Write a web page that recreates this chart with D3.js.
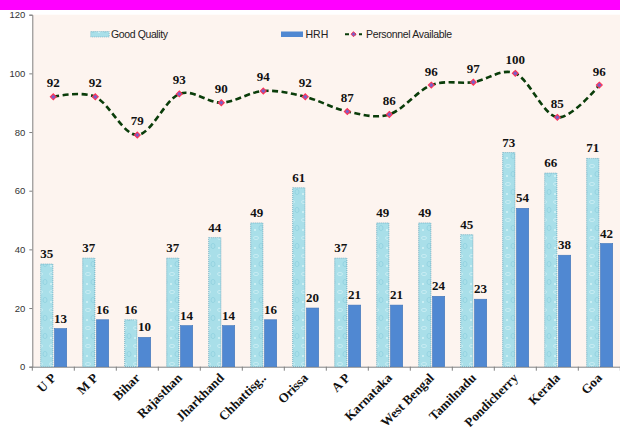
<!DOCTYPE html>
<html><head><meta charset="utf-8">
<script src="https://cdn.jsdelivr.net/npm/d3@7"></script>
<style>html,body{margin:0;padding:0;background:#fff;}svg{display:block;}</style>
</head><body>
<script>
const categories = ["U P","M P","Bihar","Rajasthan","Jharkhand","Chhattisg..","Orissa","A P","Karnataka","West Bengal","Tamilnadu","Pondicherry","Kerala","Goa"];
const goodQuality = [35,37,16,37,44,49,61,37,49,49,45,73,66,71];
const hrh = [13,16,10,14,14,16,20,21,21,24,23,54,38,42];
const personnel = [92,92,79,93,90,94,92,87,86,96,97,100,85,96];
const yTicks = [0,20,40,60,80,100,120];
const seriesNames = ["Good Quality","HRH","Personnel Available"];

(function(){
const W = 620, H = 427;
const svg = d3.select("body").append("svg").attr("width", W).attr("height", H);

// magenta band
svg.append("rect").attr("x",0).attr("y",0).attr("width",W).attr("height",10).attr("fill","#ff00ff");

const pL = 32.3, pR = 620.3, pT = 14.7, pB = 366.7;
const x = d3.scaleBand().domain(categories).range([pL, pR]).padding(0);
const inner = d3.scaleBand().domain(["gq","hrh"]).range([8.4, 34.4]).paddingInner(0.12).paddingOuter(0);
const y = d3.scaleLinear().domain([0,120]).range([pB, pT]);

// pattern for Good Quality
const defs = svg.append("defs");
const pat = defs.append("pattern").attr("id","water").attr("patternUnits","userSpaceOnUse")
  .attr("width",12).attr("height",18);
pat.append("rect").attr("width",12).attr("height",18).attr("fill","#a9dfe9");
pat.append("ellipse").attr("cx",4).attr("cy",4).attr("rx",2.5).attr("ry",1.6).attr("fill","none").attr("stroke","#cdeff4").attr("stroke-width",0.8);
pat.append("ellipse").attr("cx",9).attr("cy",12).attr("rx",2).attr("ry",2.6).attr("fill","none").attr("stroke","#8ccfdc").attr("stroke-width",0.7);
pat.append("circle").attr("cx",3).attr("cy",14).attr("r",1).attr("fill","#d6f3f7");

// plot background
svg.append("rect").attr("x",pL).attr("y",pT).attr("width",pR-pL).attr("height",pB-pT).attr("fill","#fdf4ef");

// axes
const yAxis = d3.axisLeft(y).tickValues(yTicks).tickSize(3).tickPadding(4);
const gy = svg.append("g").attr("transform",`translate(${pL},0)`).call(yAxis);
gy.selectAll("path,line").attr("stroke","#808080");
gy.selectAll("text").attr("font-family","'Liberation Sans',Arial,sans-serif").attr("font-size","9.5px").attr("fill","#333");

const xAxis = d3.axisBottom(x).tickSize(0).tickFormat("");
const gx = svg.append("g").attr("transform",`translate(0,${pB})`).call(xAxis);
gx.select("path").attr("stroke","#808080");
gx.selectAll(".tick").remove();
svg.append("g").selectAll("line").data(categories.concat(["__end"]))
  .join("line")
  .attr("x1",(d,i)=> i<categories.length ? x(d) : pR)
  .attr("x2",(d,i)=> i<categories.length ? x(d) : pR)
  .attr("y1",pB).attr("y2",pB+4).attr("stroke","#808080");

// x labels
svg.append("g").selectAll("text").data(categories).join("text")
  .attr("transform", d => `translate(${x(d)+x.bandwidth()/2+3.5},${pB+12}) rotate(-45)`)
  .attr("text-anchor","end")
  .attr("font-family","'Liberation Serif','Times New Roman',serif").attr("font-weight","bold")
  .attr("font-size","13px").attr("fill","#111").text(d=>d);

// bars
const bars = svg.append("g");
bars.selectAll("rect.gq").data(categories).join("rect").attr("class","gq")
  .attr("x",(d)=>x(d)+inner("gq")).attr("width",inner.bandwidth())
  .attr("y",(d,i)=>y(goodQuality[i])).attr("height",(d,i)=>pB-y(goodQuality[i]))
  .attr("fill","url(#water)").attr("stroke","#5fa3bb").attr("stroke-width",0.8).attr("stroke-dasharray","1,1");
bars.selectAll("rect.hrh").data(categories).join("rect").attr("class","hrh")
  .attr("x",(d)=>x(d)+inner("hrh")).attr("width",inner.bandwidth())
  .attr("y",(d,i)=>y(hrh[i])).attr("height",(d,i)=>pB-y(hrh[i]))
  .attr("fill","#5088d2").attr("stroke","#3f74b8").attr("stroke-width",0.6);

const labFont = "'Liberation Serif','Times New Roman',serif";
const labels = svg.append("g").attr("font-family",labFont).attr("font-weight","bold").attr("font-size","13px").attr("fill","#111").attr("text-anchor","middle");
labels.selectAll("text.gq").data(categories).join("text").attr("class","gq")
  .attr("x",d=>x(d)+inner("gq")+inner.bandwidth()/2).attr("y",(d,i)=>y(goodQuality[i])-6).text((d,i)=>goodQuality[i]);
labels.selectAll("text.hrh").data(categories).join("text").attr("class","hrh")
  .attr("x",d=>x(d)+inner("hrh")+inner.bandwidth()/2).attr("y",(d,i)=>y(hrh[i])-6).text((d,i)=>hrh[i]);

// line
const line = d3.line().x((d,i)=>x(categories[i])+x.bandwidth()/2).y(d=>y(d)).curve(d3.curveCardinal.tension(0));
svg.append("path").datum(personnel).attr("d",line).attr("fill","none").attr("stroke","#0a3d0a")
  .attr("stroke-width",2.6).attr("stroke-dasharray","6,3.5");
const diamond = d3.symbol().type(d3.symbolDiamond2).size(22);
svg.append("g").selectAll("path").data(personnel).join("path")
  .attr("d",diamond)
  .attr("transform",(d,i)=>`translate(${x(categories[i])+x.bandwidth()/2},${y(d)})`)
  .attr("fill","#7a5fc8").attr("stroke","#ff3355").attr("stroke-width",1.1);
labels.selectAll("text.p").data(personnel).join("text").attr("class","p")
  .attr("x",(d,i)=>x(categories[i])+x.bandwidth()/2).attr("y",d=>y(d)-9.5).text(d=>d);

// legend
const leg = svg.append("g").attr("font-family","'Liberation Sans',Arial,sans-serif").attr("font-size","10.5px").attr("fill","#222");
leg.append("rect").attr("x",90.7).attr("y",31.5).attr("width",18.5).attr("height",5.5).attr("fill","url(#water)").attr("stroke","#5fa3bb").attr("stroke-width",0.6).attr("stroke-dasharray","1,1");
leg.append("text").attr("x",111).attr("y",38).attr("textLength",57).text(seriesNames[0]);
leg.append("rect").attr("x",281).attr("y",31.5).attr("width",22).attr("height",5.5).attr("fill","#5088d2");
leg.append("text").attr("x",305.5).attr("y",38).text(seriesNames[1]);
leg.append("line").attr("x1",345).attr("x2",362).attr("y1",34.2).attr("y2",34.2).attr("stroke","#0a3d0a").attr("stroke-width",2).attr("stroke-dasharray","4,3");
leg.append("path").attr("d",d3.symbol().type(d3.symbolDiamond2).size(16)).attr("transform","translate(353.5,34.2)").attr("fill","#7a5fc8").attr("stroke","#ff3355").attr("stroke-width",1);
leg.append("text").attr("x",366).attr("y",38).attr("textLength",86).text(seriesNames[2]);
})();
</script>
</body></html>
